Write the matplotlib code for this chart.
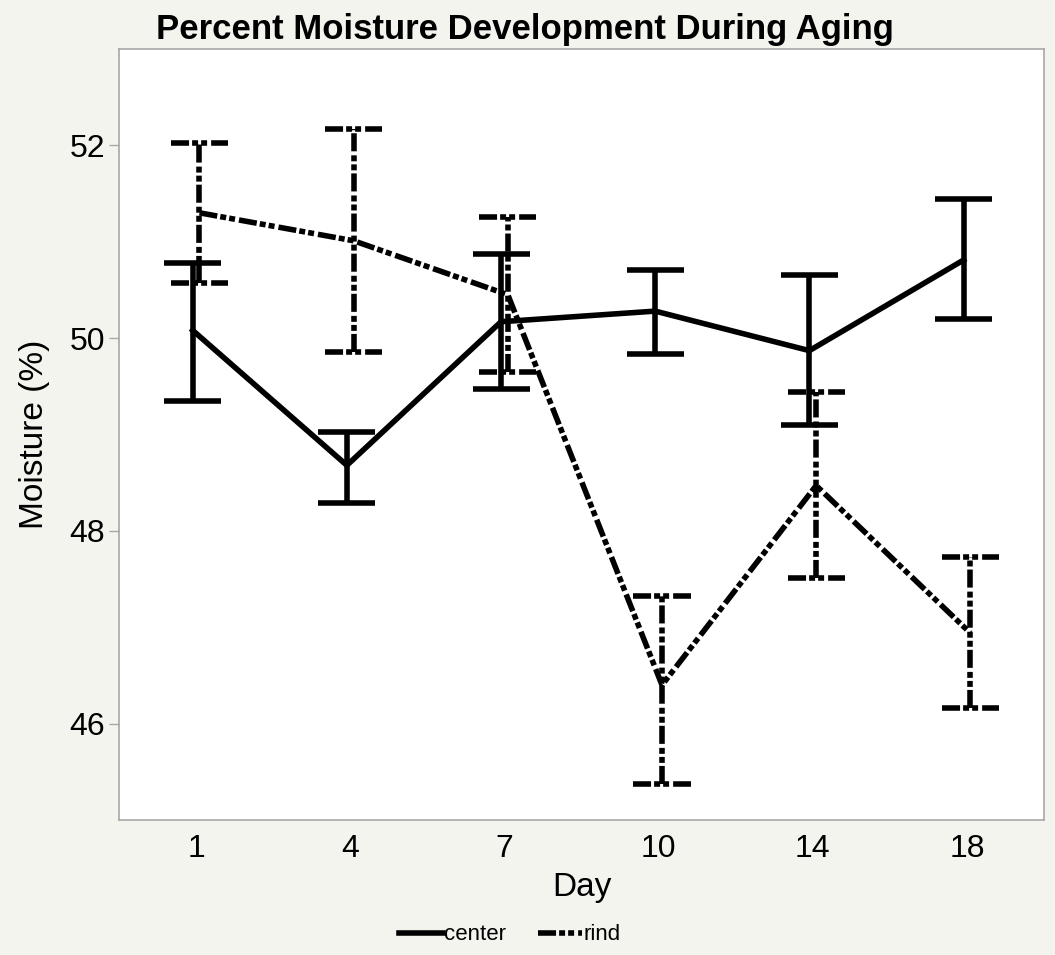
import numpy as np
import matplotlib
matplotlib.use("Agg")
import matplotlib.pyplot as plt
from matplotlib.lines import Line2D

plt.rcParams["font.family"] = ["Liberation Sans", "DejaVu Sans"]
plt.rcParams["lines.scale_dashes"] = False

days = ["1", "4", "7", "10", "14", "18"]

center_mean = [50.08, 48.68, 50.17, 50.28, 49.87, 50.81]
center_low = [49.35, 48.29, 49.47, 49.83, 49.10, 50.20]
center_high = [50.78, 49.03, 50.87, 50.71, 50.65, 51.44]

rind_mean = [51.30, 51.01, 50.45, 46.40, 48.47, 46.94]
rind_low = [50.57, 49.86, 49.65, 45.37, 47.51, 46.16]
rind_high = [52.02, 52.17, 51.26, 47.32, 49.44, 47.73]

LW = 4.0
RIND_DASH = (0, (13, 2.2, 4.3, 2.2, 4.3, 2.9))
CAP = 0.185
DODGE = 0.022

fig = plt.figure(figsize=(10.55, 9.55), dpi=100, facecolor="#f4f4ef")
ax = fig.add_axes([0.1128, 0.1414, 0.8768, 0.8073])
ax.set_facecolor("white")

x = np.arange(len(days))
series = [
    (x - DODGE, center_mean, center_low, center_high, "solid"),
    (x + DODGE, rind_mean, rind_low, rind_high, RIND_DASH),
]
for xs, m, lo, hi, ls in series:
    ax.plot(xs, m, color="black", lw=LW, linestyle=ls, solid_joinstyle="miter")
    ax.vlines(xs, lo, hi, color="black", lw=LW, linestyles=[ls])
    ax.hlines(lo, xs - CAP, xs + CAP, color="black", lw=LW, linestyles=[ls])
    ax.hlines(hi, xs - CAP, xs + CAP, color="black", lw=LW, linestyles=[ls])

ax.set_xlim(-0.5, len(days) - 0.5)
ax.set_ylim(45, 53)
ax.set_xticks(x)
ax.set_xticklabels(days)
ax.set_yticks([46, 48, 50, 52])

for s in ax.spines.values():
    s.set_color("#a8a8a8")
    s.set_linewidth(1.2)
ax.tick_params(axis="both", colors="#a8a8a8", labelcolor="black", labelsize=23,
               length=7, width=1)
ax.tick_params(axis="y", pad=3)
ax.tick_params(axis="x", length=0, pad=10)

ax.set_xlabel("Day", fontsize=24, labelpad=6)
ax.set_ylabel("Moisture (%)", fontsize=24, labelpad=14)
fig.text(0.4976, 0.9686, "Percent Moisture Development During Aging",
         ha="center", va="center", fontsize=25, fontweight="bold")

handles = [
    Line2D([], [], color="black", lw=LW, linestyle="solid"),
    Line2D([], [], color="black", lw=LW, linestyle=RIND_DASH),
]
fig.legend(handles, ["center", "rind"], loc="center", bbox_to_anchor=(0.483, 0.021),
           ncol=2, frameon=False, fontsize=16, handlelength=2.0, handletextpad=0.05,
           columnspacing=1.4)

fig.savefig("out.png", dpi=100, facecolor=fig.get_facecolor())
